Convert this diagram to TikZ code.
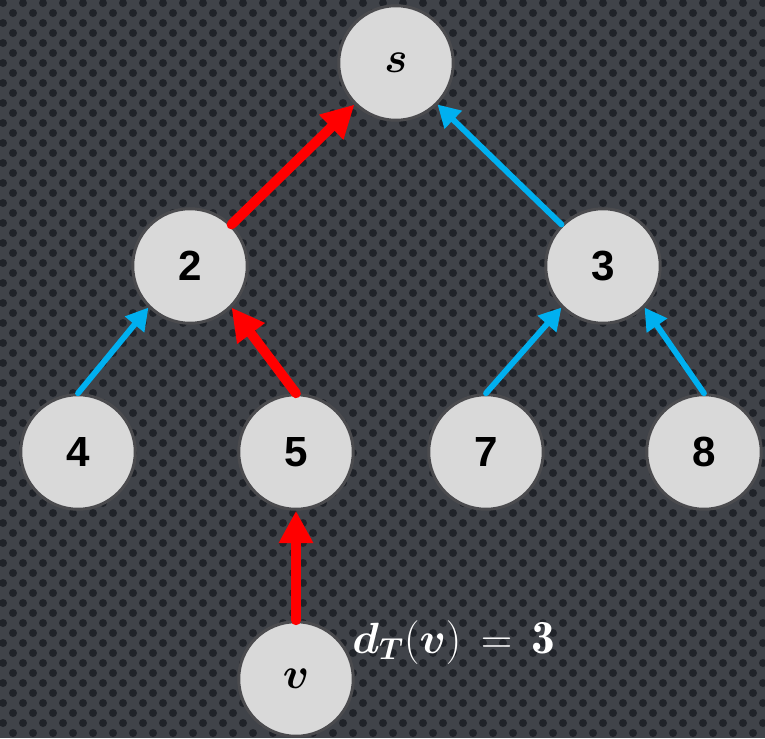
\documentclass[tikz,border=0pt]{standalone}
\usepackage{fontspec}
\setsansfont{Liberation Sans}
\usetikzlibrary{arrows.meta}
\DeclareMathAlphabet{\mathbi}{OML}{cmm}{b}{it}
\definecolor{bgcol}{RGB}{64,67,73}
\definecolor{dotcol}{RGB}{32,35,41}
\definecolor{nodefill}{RGB}{217,217,217}
\definecolor{nodeline}{RGB}{75,75,78}
\definecolor{redarr}{RGB}{255,0,0}
\definecolor{bluearr}{RGB}{0,176,240}
\newcommand{\digitfont}{\sffamily\bfseries\fontsize{24}{24}\selectfont}
\tikzset{
  gnode/.style={circle, fill=nodefill, draw=nodeline, line width=1.7pt, minimum size=2.29cm, inner sep=0pt, font=\digitfont},
  letternode/.style={gnode, font=\fontsize{32}{32}\selectfont},
  redline/.style={draw=redarr, line width=5.6pt, line cap=round, -{Triangle[length=18.5pt,width=18.5pt]}},
  blueline/.style={draw=bluearr, line width=3.3pt, line cap=round, -{Triangle[length=12.5pt,width=13.5pt]}},
}
\begin{document}
\begin{tikzpicture}[x=0.02cm, y=-0.02cm]
\useasboundingbox (0,0) rectangle (765,738);
\fill[bgcol] (0,0) rectangle (765,738);
\fill[dotcol] \foreach \xi in {0,...,38} { \foreach \yj in {0,...,37} { (20*\xi+3,20*\yj+3) circle[radius=0.08cm] (20*\xi+13,20*\yj+13) circle[radius=0.08cm] } };
\node[gnode] (n2) at (190,266) {2};
\node[gnode] (n3) at (603,266) {3};
\node[gnode] (n4) at (78,452) {4};
\node[gnode] (n5) at (296,452) {5};
\node[gnode] (n7) at (486,452) {7};
\node[gnode] (n8) at (704,452) {8};
\node[letternode] (ns) at (396,63) {$\mathbi{s}$};
\node[letternode] (nv) at (296,679) {$\mathbi{v}$};
\node[anchor=base west, text=white, inner sep=0pt, font=\fontsize{27}{27}\selectfont] (lbl) at (352,653) {$\mathbi{d}_{\mathbi{T}}\mathbf{(}\mathbi{v}\mathbf{)}\,\mathrel{\mathbf{=}}\,\mathbf{3}$};
\draw[redline] (n2.45) -- (ns.225);
\draw[blueline] (n3.135) -- (ns.-45);
\draw[blueline] (n4.north) -- (n2.225);
\draw[redline] (n5.north) -- (n2.-45);
\draw[blueline] (n7.north) -- (n3.225);
\draw[blueline] (n8.north) -- (n3.-45);
\draw[redline] (nv.north) -- (n5.south);
\end{tikzpicture}
\end{document}
